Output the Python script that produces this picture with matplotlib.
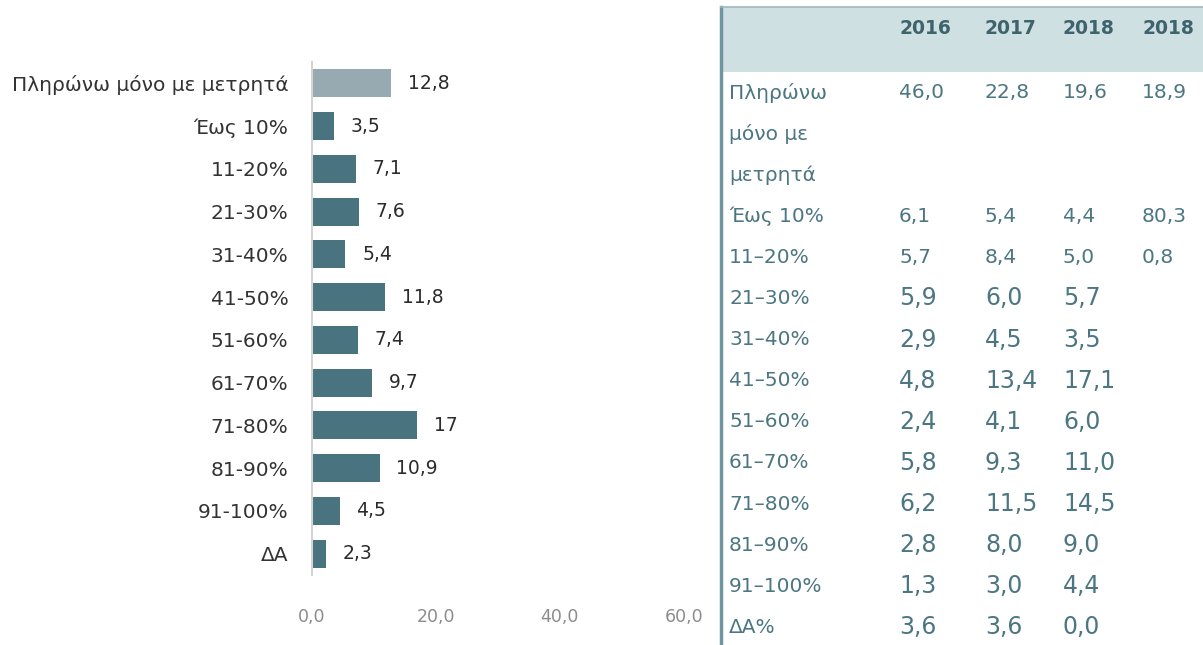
import matplotlib
matplotlib.use('Agg')
import matplotlib.pyplot as plt

# data of the bar chart
categories = ['Πληρώνω μόνο με μετρητά', 'Έως 10%', '11-20%', '21-30%', '31-40%',
              '41-50%', '51-60%', '61-70%', '71-80%', '81-90%', '91-100%', 'ΔΑ']
values = [12.8, 3.5, 7.1, 7.6, 5.4, 11.8, 7.4, 9.7, 17, 10.9, 4.5, 2.3]
xticks = [0, 20, 40, 60]
xtick_labels = ['0,0', '20,0', '40,0', '60,0']

# data of the table
years = ['2016', '2017', '2018', '2018']
row_labels = ['Πληρώνω\nμόνο με\nμετρητά', 'Έως 10%', '11–20%', '21–30%', '31–40%',
              '41–50%', '51–60%', '61–70%', '71–80%', '81–90%', '91–100%', 'ΔΑ%']
col_2016 = ['46,0', '6,1', '5,7', '5,9', '2,9', '4,8', '2,4', '5,8', '6,2', '2,8', '1,3', '3,6']
col_2017 = ['22,8', '5,4', '8,4', '6,0', '4,5', '13,4', '4,1', '9,3', '11,5', '8,0', '3,0', '3,6']
col_2018 = ['19,6', '4,4', '5,0', '5,7', '3,5', '17,1', '6,0', '11,0', '14,5', '9,0', '4,4', '0,0']
col_2018b = ['18,9', '80,3', '0,8', '', '', '', '', '', '', '', '', '']

W, H = 1203, 645
fig = plt.figure(figsize=(W / 100, H / 100), dpi=100)

# --- bar chart ---
ax = fig.add_axes([312 / W, 1 - 575 / H, 384 / W, 513 / H])
colors = ['#98aab1'] + ['#4a7380'] * (len(values) - 1)
ypos = list(range(len(values)))
ax.barh(ypos, values, height=0.65, color=colors)
ax.set_ylim(len(values) - 0.5, -0.5)
ax.set_xlim(0, 62)
ax.set_yticks(ypos)
ax.set_yticklabels(categories, fontsize=14.5, color='#333333')
ax.set_xticks(xticks)
ax.set_xticklabels(xtick_labels, fontsize=12.5, color='#8c8c8c')
ax.tick_params(axis='y', length=0, pad=17)
ax.tick_params(axis='x', length=0, pad=24)
for s in ['top', 'right', 'bottom']:
    ax.spines[s].set_visible(False)
ax.spines['left'].set_color('#d4d4d4')
ax.spines['left'].set_linewidth(1.5)
for y, v in zip(ypos, values):
    ax.annotate(f'{v}'.replace('.', ','), (v, y), xytext=(12, 0), textcoords='offset points',
                va='center', ha='left', fontsize=13.5, color='#2b2b2b')

# --- table ---
tab = fig.add_axes([721 / W, 0, (W - 721) / W, 638 / H])
slot = 41.1
tab.set_xlim(0, W - 721)
tab.set_ylim((645 - 93) / slot, (7 - 93) / slot)
tab.set_xticks([])
tab.set_yticks([])
for s in ['right', 'bottom']:
    tab.spines[s].set_visible(False)
tab.spines['left'].set_color('#6f959e')
tab.spines['left'].set_linewidth(2.5)
tab.spines['top'].set_color('#9fb8bd')
tab.spines['top'].set_linewidth(1.2)
tab.axhspan((7 - 93) / slot, (72 - 93) / slot, color='#cfe0e3', lw=0)

txt = '#4b7682'
col_x = [178, 264, 342, 421]
for cx, yr in zip(col_x, years):
    tab.text(cx, (28 - 93) / slot, yr, fontsize=13.5, fontweight='bold', color='#3f636d',
             va='center', ha='left')

cols = [col_2016, col_2017, col_2018, col_2018b]
row_slot = [0] + list(range(3, 3 + len(row_labels) - 1))
for i, (lab, r) in enumerate(zip(row_labels, row_slot)):
    for j, line in enumerate(lab.split('\n')):
        tab.text(8, r + j, line, fontsize=14.5, color=txt, va='center', ha='left')
    size = 14.5 if i < 3 else 17
    for cx, col in zip(col_x, cols):
        tab.text(cx, r, col[i], fontsize=size, color=txt, va='center', ha='left')

fig.savefig('out.png', dpi=100)
